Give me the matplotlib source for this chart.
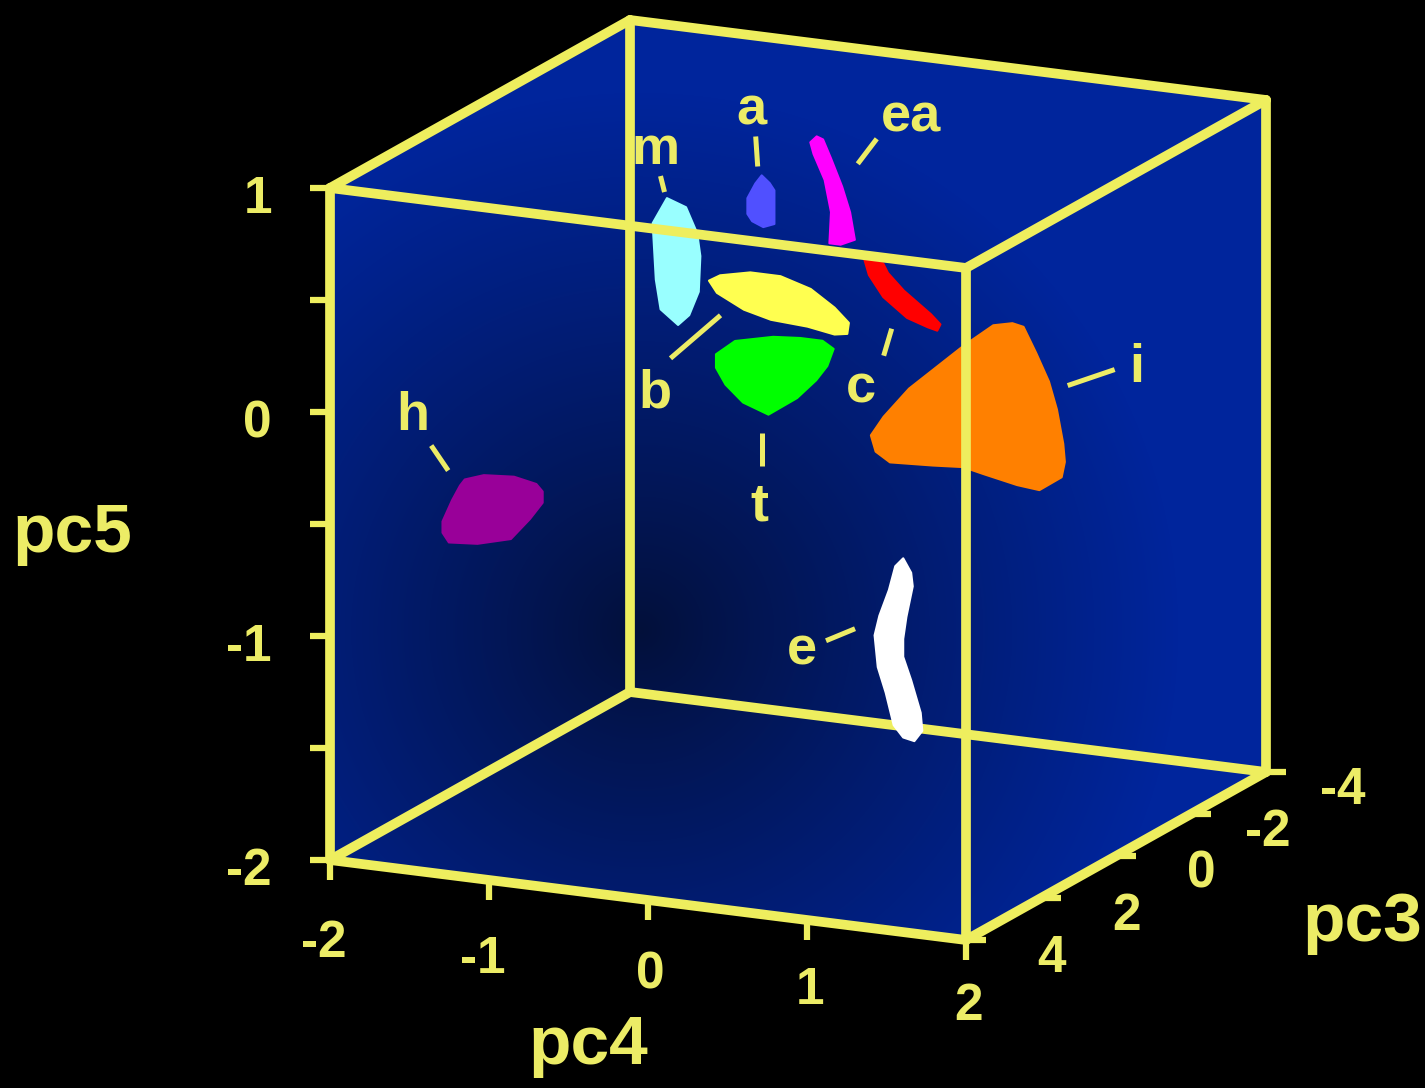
import numpy as np
import matplotlib.pyplot as plt
from matplotlib.patches import Polygon
from matplotlib.colors import LinearSegmentedColormap

plt.rcParams['font.family'] = ['Liberation Sans', 'DejaVu Sans']
plt.rcParams['font.weight'] = 'bold'

# axis ranges (pc3 runs from the front face to the back face)
pc4_lim = (-2, 2)
pc5_lim = (-2, 1)
pc3_lim = (4, -4)

pc4_ticks = [-2, -1, 0, 1, 2]
pc5_ticks = [-2, -1.5, -1, -0.5, 0, 0.5, 1]
pc5_labelled = [-2, -1, 0, 1]
pc3_ticks = [4, 2, 0, -2, -4]

# cluster centres
names = ['h', 'm', 'a', 'ea', 'b', 'c', 't', 'i', 'e']
colors = ['#990099', '#99ffff', '#5050ff', '#ff00ff', '#ffff50',
          '#ff0000', '#00ff00', '#ff8000', '#ffffff']
center_pc4 = [-1.70, -1.00, -0.70, -0.47, -0.11, 0.41, 0.09, 1.52, 0.17]
center_pc5 = [-0.69, 0.29, 0.48, 0.45, 0.27, 0.27, 0.07, 0.16, -1.43]
center_pc3 = [1, -1, -2, -3, 0, -1, 1, 2, -2]

# cluster outlines, offsets from the centre in (pc4, pc5) units
h_d4 = [-0.16, -0.04, 0.15, 0.29, 0.33, 0.33, 0.25, 0.13, -0.08, -0.26, -0.30, -0.30, -0.24, -0.19]
h_d5 = [0.12, 0.15, 0.16, 0.14, 0.11, 0.06, -0.02, -0.12, -0.16, -0.17, -0.13, -0.08, 0.02, 0.09]
m_d4 = [-0.06, 0.06, 0.13, 0.15, 0.14, 0.08, 0.01, -0.10, -0.13, -0.15]
m_d5 = [0.28, 0.25, 0.14, 0.04, -0.12, -0.23, -0.28, -0.22, -0.09, 0.16]
a_d4 = [0.00, 0.05, 0.08, 0.08, 0.01, -0.06, -0.09, -0.09, -0.04]
a_d5 = [0.13, 0.10, 0.07, -0.08, -0.10, -0.08, -0.05, 0.02, 0.09]
ea_d4 = [-0.16, -0.14, -0.07, -0.03, -0.04, 0.03, 0.12, 0.09, 0.04, -0.03, -0.08, -0.12]
ea_d5 = [0.22, 0.17, 0.06, -0.08, -0.22, -0.22, -0.19, -0.07, 0.04, 0.16, 0.24, 0.25]
b_d4 = [-0.45, -0.38, -0.19, 0.00, 0.19, 0.34, 0.43, 0.42, 0.34, 0.17, -0.06, -0.23, -0.40]
b_d5 = [0.07, 0.10, 0.13, 0.13, 0.09, 0.02, -0.04, -0.09, -0.10, -0.08, -0.07, -0.04, 0.02]
c_d4 = [-0.23, -0.11, -0.08, 0.02, 0.19, 0.25, 0.23, 0.17, 0.04, -0.11, -0.20]
c_d5 = [0.14, 0.13, 0.09, 0.02, -0.07, -0.11, -0.14, -0.13, -0.10, -0.02, 0.07]
t_d4 = [-0.37, -0.25, -0.01, 0.16, 0.30, 0.37, 0.33, 0.26, 0.14, -0.04, -0.20, -0.31, -0.37]
t_d5 = [0.06, 0.13, 0.17, 0.18, 0.18, 0.15, 0.07, 0.00, -0.09, -0.18, -0.14, -0.07, 0.00]
i_d4 = [-0.59, -0.51, -0.35, -0.18, -0.01, 0.18, 0.30, 0.37, 0.45, 0.53, 0.58,
        0.62, 0.63, 0.61, 0.47, 0.33, 0.12, -0.01, -0.20, -0.47, -0.56]
i_d5 = [-0.19, -0.10, 0.04, 0.15, 0.26, 0.37, 0.39, 0.38, 0.27, 0.15, 0.03,
        -0.12, -0.20, -0.27, -0.34, -0.33, -0.30, -0.28, -0.29, -0.30, -0.26]
e_d4 = [0.02, 0.07, 0.08, 0.04, 0.02, 0.02, 0.07, 0.13, 0.14, 0.09, 0.02,
        -0.04, -0.09, -0.14, -0.16, -0.13, -0.07, -0.03]
e_d5 = [0.41, 0.35, 0.29, 0.15, 0.05, -0.03, -0.13, -0.27, -0.35, -0.40, -0.39,
        -0.34, -0.20, -0.09, 0.05, 0.14, 0.26, 0.37]

outlines = {'h': (h_d4, h_d5), 'm': (m_d4, m_d5), 'a': (a_d4, a_d5),
            'ea': (ea_d4, ea_d5), 'b': (b_d4, b_d5), 'c': (c_d4, c_d5),
            't': (t_d4, t_d5), 'i': (i_d4, i_d5), 'e': (e_d4, e_d5)}

# label placement in pixels relative to the cluster centre:
# text position, leader start, leader end
label_pos = {
    'h': ((-77, -80), (-59, -64), (-42, -39)),
    'm': ((-21, -98), (-16, -86), (-12, -70)),
    'a': ((-10, -80), (-6, -68), (-4, -38)),
    'ea': ((75, -63), (41, -56), (22, -31)),
    'b': ((-125, 102), (-110, 53), (-60, 10)),
    'c': ((-40, 108), (-17, 61), (-9, 34)),
    't': ((-15, 145), (-13, 58), (-13, 91)),
    'i': ((172, -23), (103, -19), (150, -35)),
    'e': ((-98, 15), (-74, -9), (-45, -21)),
}

YELLOW = '#eeee5e'
TEXT = '#ecec66'

W, H = 1425, 1088
fig = plt.figure(figsize=(W / 100, H / 100), dpi=100, facecolor='black')
ax = fig.add_axes([0, 0, 1, 1])
ax.set_xlim(0, W)
ax.set_ylim(H, 0)
ax.axis('off')

# oblique projection of the box onto the canvas
ORIGIN = np.array([330.0, 860.0])          # (pc4=-2, pc5=-2, pc3=4)
E4 = np.array([636.0, 80.0]) / 4
E5 = np.array([0.0, -672.0]) / 3
E3 = np.array([-300.0, 168.0]) / 8


def project(p4, p5, p3):
    p4, p5, p3 = np.broadcast_arrays(np.atleast_1d(np.asarray(p4, float)),
                                     np.atleast_1d(np.asarray(p5, float)),
                                     np.atleast_1d(np.asarray(p3, float)))
    xy = (ORIGIN + np.outer(p4 - pc4_lim[0], E4) + np.outer(p5 - pc5_lim[0], E5)
          + np.outer(p3 - pc3_lim[0], E3))
    return xy[:, 0], xy[:, 1]


x0, x1 = pc4_lim
y0, y1 = pc5_lim
zf, zb = pc3_lim

# background panes with a gradient that darkens towards the hidden corner
hx, hy = project([x0, x0, x1, x1, x1, x0], [y1, y1, y1, y0, y0, y0],
                 [zf, zb, zb, zb, zf, zf])
pane = Polygon(np.column_stack([hx, hy]), closed=True, facecolor='none',
               edgecolor='none')
ax.add_patch(pane)
gy, gx = np.mgrid[0:H, 0:W]
dist = np.hypot(gx - 640, gy - 630)
shade = np.clip(dist / 540.0, 0, 1) ** 0.9
cmap = LinearSegmentedColormap.from_list('pane', ['#03103a', '#00259c'])
img = ax.imshow(shade, cmap=cmap, vmin=0, vmax=1, extent=(0, W, H, 0),
                interpolation='bilinear', zorder=1)
img.set_clip_path(pane)
ax.set_xlim(0, W)
ax.set_ylim(H, 0)

# box edges: the three meeting at the hidden corner sit behind the clusters
hidden = [((x0, y0, zb), (x0, y1, zb)), ((x0, y0, zb), (x1, y0, zb)),
          ((x0, y0, zb), (x0, y0, zf))]
visible = [((x0, y0, zf), (x1, y0, zf)), ((x1, y0, zf), (x1, y1, zf)),
           ((x1, y1, zf), (x0, y1, zf)), ((x0, y1, zf), (x0, y0, zf)),
           ((x0, y1, zf), (x0, y1, zb)), ((x0, y1, zb), (x1, y1, zb)),
           ((x1, y1, zb), (x1, y0, zb)), ((x1, y0, zb), (x1, y0, zf)),
           ((x1, y1, zf), (x1, y1, zb))]
for group, z in ((hidden, 2), (visible, 4)):
    for a, b in group:
        ex, ey = project(*zip(a, b))
        ax.plot(ex, ey, color=YELLOW, lw=7, solid_capstyle='round', zorder=z)

# clusters
for name, col, c4, c5, c3 in zip(names, colors, center_pc4, center_pc5, center_pc3):
    d4, d5 = outlines[name]
    px, py = project(c4 + np.asarray(d4), c5 + np.asarray(d5), c3)
    ax.add_patch(Polygon(np.column_stack([px, py]), closed=True,
                         facecolor=col, edgecolor=col, lw=1.5,
                         joinstyle='round', zorder=3))
    cx, cy = project(c4, c5, c3)
    (tx, ty), (sx, sy), (fx, fy) = label_pos[name]
    ax.plot([cx[0] + sx, cx[0] + fx], [cy[0] + sy, cy[0] + fy], color=TEXT,
            lw=3.6, solid_capstyle='butt', zorder=5)
    ax.text(cx[0] + tx, cy[0] + ty, name, color=TEXT, fontsize=39,
            fontweight='bold', ha='center', va='baseline', zorder=5)

# pc5 axis on the front-left edge
for v in pc5_ticks:
    tx, ty = project(x0, v, zf)
    ax.plot([tx[0] - 20, tx[0]], [ty[0], ty[0]], color=YELLOW, lw=4.5,
            solid_capstyle='butt', zorder=4)
    if v in pc5_labelled:
        ax.text(tx[0] - 58, ty[0] + 25, f'{v:g}', color=TEXT, fontsize=37,
                ha='right', va='baseline')

# pc4 axis on the front-bottom edge; labels drift up slightly towards the right
for v in pc4_ticks:
    tx, ty = project(v, y0, zf)
    ax.plot([tx[0], tx[0]], [ty[0], ty[0] + 20], color=YELLOW, lw=4.5,
            solid_capstyle='butt', zorder=4)
    ax.text(tx[0] + 17, ty[0] + 97 - 4.2 * (v - x0), f'{v:g}', color=TEXT,
            fontsize=37, ha='right', va='baseline')

# pc3 axis on the bottom-right depth edge
for v in pc3_ticks:
    tx, ty = project(x1, y0, v)
    ax.plot([tx[0], tx[0] + 20], [ty[0], ty[0]], color=YELLOW, lw=4.5,
            solid_capstyle='butt', zorder=4)
    ax.text(tx[0] + 100, ty[0] + 32, f'{v:g}', color=TEXT, fontsize=37,
            ha='right', va='baseline')

# axis titles
ax.text(72, 552, 'pc5', color=TEXT, fontsize=50, ha='center', va='baseline')
ax.text(588, 1064, 'pc4', color=TEXT, fontsize=50, ha='center', va='baseline')
ax.text(1362, 941, 'pc3', color=TEXT, fontsize=50, ha='center', va='baseline')

fig.savefig('out.png', dpi=100, facecolor='black')
